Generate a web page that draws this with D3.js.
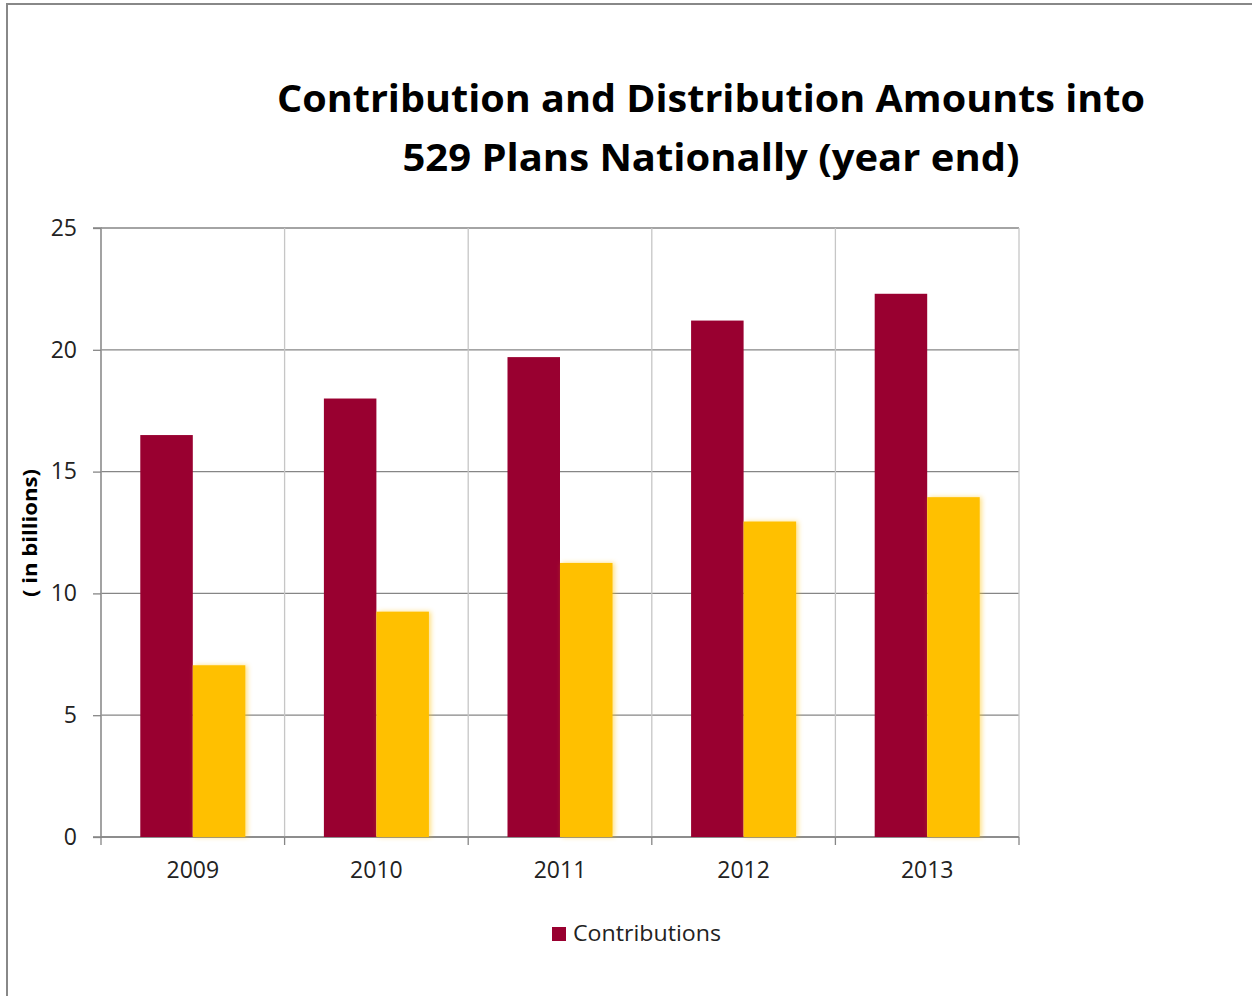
<!DOCTYPE html>
<html><head><meta charset="utf-8">
<script src="https://cdn.jsdelivr.net/npm/d3@7"></script>
<style>body{margin:0;background:#fff}svg{display:block}</style>
</head><body>
<script>
const years = ["2009","2010","2011","2012","2013"];
const contributions = [16.5, 18.0, 19.7, 21.2, 22.3];
const distributions = [7.05, 9.25, 11.25, 12.95, 13.95];
const yTicks = [0,5,10,15,20,25];
const titleLines = ["Contribution and Distribution Amounts into","529 Plans Nationally (year end)"];
const yLabel = "( in billions)";
const legendLabel = "Contributions";

(function(){
const W=1252,H=996;
const svg=d3.select("body").append("svg").attr("width",W).attr("height",H);
const defs=svg.append("defs");
const f=defs.append("filter").attr("id","glow").attr("x","-20%").attr("y","-5%").attr("width","140%").attr("height","110%");
f.append("feGaussianBlur").attr("in","SourceAlpha").attr("stdDeviation",2.5).attr("result","b");
f.append("feOffset").attr("in","b").attr("dx",2).attr("dy",0).attr("result","o");
f.append("feFlood").attr("flood-color","#ffc000").attr("flood-opacity",0.5);
f.append("feComposite").attr("in2","o").attr("operator","in").attr("result","s");
const m=f.append("feMerge");m.append("feMergeNode").attr("in","s");m.append("feMergeNode").attr("in","SourceGraphic");

svg.append("rect").attr("x",7).attr("y",4).attr("width",W+10).attr("height",H+10)
  .attr("fill","none").attr("stroke","#888").attr("stroke-width",2);

const pL=101,pR=1019,pT=228,pB=837;
const x=d3.scaleBand().domain(years).range([pL,pR]).padding(0);
const y=d3.scaleLinear().domain([0,25]).range([pB,pT]);
const groupFrac=0.572;
const xs=d3.scaleBand().domain(["c","d"]).range([0,x.bandwidth()*groupFrac]);
const off=x.bandwidth()*(1-groupFrac)/2;

const g=svg.append("g");
g.selectAll(".hg").data(yTicks).join("line")
  .attr("x1",pL).attr("x2",pR).attr("y1",d=>y(d)).attr("y2",d=>y(d))
  .attr("stroke","#868686").attr("stroke-width",1.3);
const vx=years.map(d=>x(d)).concat([pR]);
g.selectAll(".vg").data(vx).join("line")
  .attr("x1",d=>d).attr("x2",d=>d).attr("y1",pT).attr("y2",pB)
  .attr("stroke","#c6c6c6").attr("stroke-width",1.3);

const ya=d3.axisLeft(y).tickValues(yTicks).tickSize(8).tickPadding(16);
const yg=svg.append("g").attr("transform",`translate(${pL},0)`).call(ya);
yg.select(".domain").attr("stroke","#868686").attr("stroke-width",1.3).attr("d",`M-8,${pT}H0V${pB}H-8`);
yg.selectAll(".tick line").attr("stroke","#868686").attr("stroke-width",1.3);
yg.selectAll("text").attr("font-family","'Open Sans',sans-serif").attr("font-size",23).attr("fill","#222");

const xa=d3.axisBottom(x).tickSize(0).tickPadding(25);
const xg=svg.append("g").attr("transform",`translate(0,${pB})`).call(xa);
xg.select(".domain").attr("stroke","#868686").attr("stroke-width",1.3).attr("d",`M${pL},0H${pR}`);
xg.selectAll("text").attr("font-family","'Open Sans',sans-serif").attr("font-size",23).attr("fill","#222");
xg.selectAll(".xt").data(vx).join("line").attr("class","xt")
  .attr("x1",d=>d).attr("x2",d=>d).attr("y1",0).attr("y2",8)
  .attr("stroke","#868686").attr("stroke-width",1.3);

const bars=svg.append("g");
bars.selectAll(".c").data(years).join("rect")
  .attr("x",(d)=>x(d)+off+xs("c")).attr("width",xs.bandwidth())
  .attr("y",(d,i)=>y(contributions[i])).attr("height",(d,i)=>pB-y(contributions[i]))
  .attr("fill","#990030");
bars.selectAll(".d").data(years).join("rect")
  .attr("x",(d)=>x(d)+off+xs("d")).attr("width",xs.bandwidth())
  .attr("y",(d,i)=>y(distributions[i])).attr("height",(d,i)=>pB-y(distributions[i]))
  .attr("fill","#ffc000").attr("filter","url(#glow)");

const tl=[{t:titleLines[0],y:112,w:868},{t:titleLines[1],y:171,w:617}];
svg.selectAll(".title").data(tl).join("text")
  .attr("x",711).attr("y",d=>d.y).attr("text-anchor","middle")
  .attr("font-family","'Open Sans',sans-serif").attr("font-weight","bold").attr("font-size",38)
  .attr("textLength",d=>d.w).attr("lengthAdjust","spacingAndGlyphs")
  .attr("fill","#000").text(d=>d.t);

svg.append("text").attr("transform","translate(37,533) rotate(-90)").attr("text-anchor","middle")
  .attr("font-family","'Open Sans',sans-serif").attr("font-weight","bold").attr("font-size",19)
  .attr("textLength",128).attr("lengthAdjust","spacingAndGlyphs")
  .attr("fill","#000").text(yLabel);

svg.append("rect").attr("x",552).attr("y",927).attr("width",14).attr("height",14).attr("fill","#990030");
svg.append("text").attr("x",573).attr("y",941).attr("font-family","'Open Sans',sans-serif").attr("font-size",21)
  .attr("textLength",148).attr("lengthAdjust","spacingAndGlyphs").attr("fill","#222").text(legendLabel);
})();
</script>
</body></html>
